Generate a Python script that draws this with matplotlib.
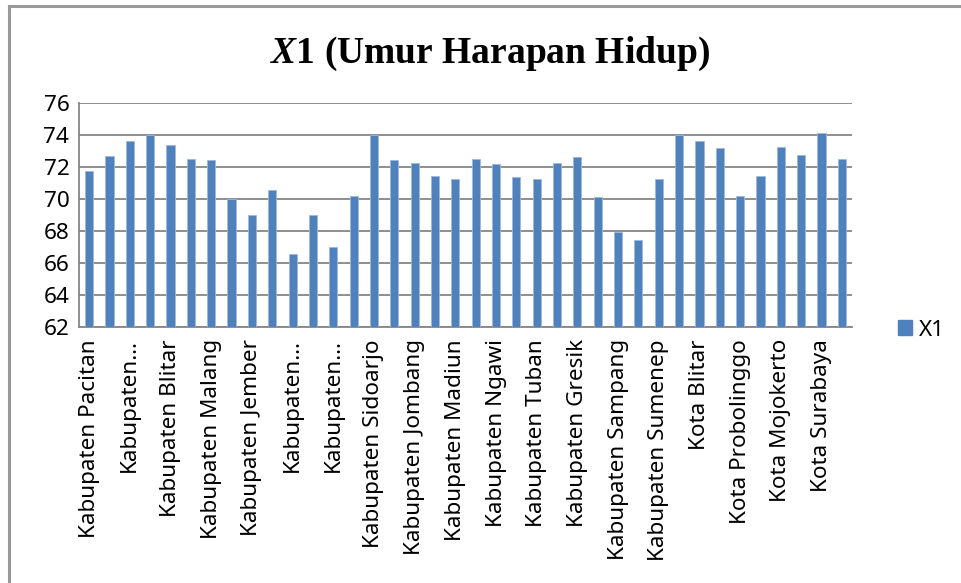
import matplotlib
matplotlib.use("Agg")
import matplotlib.pyplot as plt
from matplotlib.lines import Line2D
from matplotlib.patches import Patch

regions = [
    "Kabupaten Pacitan", "Kabupaten Ponorogo", "Kabupaten Trenggalek", "Kabupaten Tulungagung",
    "Kabupaten Blitar", "Kabupaten Kediri", "Kabupaten Malang", "Kabupaten Lumajang",
    "Kabupaten Jember", "Kabupaten Banyuwangi", "Kabupaten Bondowoso", "Kabupaten Situbondo",
    "Kabupaten Probolinggo", "Kabupaten Pasuruan", "Kabupaten Sidoarjo", "Kabupaten Mojokerto",
    "Kabupaten Jombang", "Kabupaten Nganjuk", "Kabupaten Madiun", "Kabupaten Magetan",
    "Kabupaten Ngawi", "Kabupaten Bojonegoro", "Kabupaten Tuban", "Kabupaten Lamongan",
    "Kabupaten Gresik", "Kabupaten Bangkalan", "Kabupaten Sampang", "Kabupaten Pamekasan",
    "Kabupaten Sumenep", "Kota Kediri", "Kota Blitar", "Kota Malang",
    "Kota Probolinggo", "Kota Pasuruan", "Kota Mojokerto", "Kota Madiun",
    "Kota Surabaya", "Kota Batu",
]
x1_values = [
    71.76, 72.64, 73.58, 73.96, 73.37, 72.51, 72.43, 69.96,
    68.97, 70.54, 66.52, 68.97, 67.00, 70.15, 73.96, 72.41,
    72.26, 71.42, 71.21, 72.47, 72.14, 71.34, 71.26, 72.26,
    72.60, 70.08, 67.93, 67.42, 71.21, 73.96, 73.58, 73.14,
    70.15, 71.40, 73.20, 72.74, 74.13, 72.51,
]
# labels shown on the axis (every other category, some truncated as in the source)
shown_labels = [
    "Kabupaten Pacitan", "Kabupaten…", "Kabupaten Blitar", "Kabupaten Malang",
    "Kabupaten Jember", "Kabupaten…", "Kabupaten…", "Kabupaten Sidoarjo",
    "Kabupaten Jombang", "Kabupaten Madiun", "Kabupaten Ngawi", "Kabupaten Tuban",
    "Kabupaten Gresik", "Kabupaten Sampang", "Kabupaten Sumenep", "Kota Blitar",
    "Kota Probolinggo", "Kota Mojokerto", "Kota Surabaya",
]
y_ticks = [62, 64, 66, 68, 70, 72, 74, 76]
series_name = "X1"

plt.rcParams['mathtext.fontset'] = 'custom'
plt.rcParams['mathtext.it'] = 'Liberation Serif:italic:bold'
plt.rcParams['mathtext.rm'] = 'Liberation Serif:bold'

W, H = 961, 583
fig = plt.figure(figsize=(W / 100, H / 100), dpi=100)
ax = fig.add_axes([79 / W, 1 - 326.7 / H, (852 - 79) / W, (326.7 - 102.7) / H])

bar_color = "#4F81BD"
grid_color = "#868686"
label_font = "Noto Sans"
fs = 16.2
xs = list(range(len(regions)))
ax.bar(xs, [v - 62 for v in x1_values], bottom=62, width=0.4, color=bar_color,
       edgecolor="#9DB8DC", linewidth=0.6, zorder=3)

ax.set_xlim(-0.5, len(regions) - 0.5)
ax.set_ylim(62, 76)
ax.set_yticks(y_ticks)
ax.set_yticklabels([str(t) for t in y_ticks], fontfamily=label_font, fontsize=fs)
ax.yaxis.grid(True, color=grid_color, linewidth=1.3, zorder=1)
ax.tick_params(axis='y', length=0, pad=7)

ax.set_xticks(xs[::2])
ax.set_xticklabels(shown_labels, rotation=90, fontfamily=label_font, fontsize=fs, va='top', ha='center')
ax.tick_params(axis='x', length=0, pad=9)

for s in ["top", "right"]:
    ax.spines[s].set_visible(False)
ax.spines["left"].set_color(grid_color)
ax.spines["bottom"].set_color(grid_color)
ax.spines["left"].set_linewidth(1.3)
ax.spines["bottom"].set_linewidth(1.3)

fig.text(490 / W, 1 - 54 / H, r"$\mathit{X}$1 (Umur Harapan Hidup)", fontfamily="Liberation Serif",
         fontweight="bold", fontsize=27, ha="center", va="center")

leg = fig.legend(handles=[Patch(facecolor=bar_color, edgecolor=bar_color, label=series_name)],
                 loc="center left", bbox_to_anchor=(889 / W, 1 - 330 / H), frameon=False,
                 prop={"family": label_font, "size": fs}, handlelength=0.6, handleheight=0.6,
                 handletextpad=0.35, borderaxespad=0)

# outer chart frame
fig.add_artist(Line2D([8.5 / W, 8.5 / W], [0, 1 - 5.5 / H], color="#999999", linewidth=2.2,
                      transform=fig.transFigure))
fig.add_artist(Line2D([8.5 / W, 1], [1 - 5.5 / H, 1 - 5.5 / H], color="#999999", linewidth=2.2,
                      transform=fig.transFigure))

fig.savefig("out.png", dpi=100)
